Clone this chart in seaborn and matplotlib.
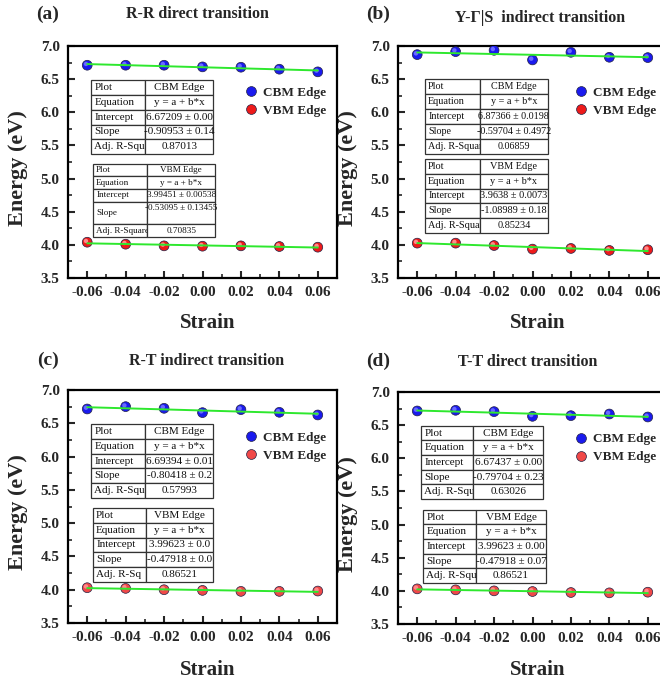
import numpy as np
import pandas as pd
import matplotlib
matplotlib.use("Agg")
import matplotlib.pyplot as plt
from matplotlib.table import Table
from matplotlib.ticker import MultipleLocator
from matplotlib.transforms import ScaledTranslation
import seaborn as sns

# ---------------- data ----------------
strain = [-0.06, -0.04, -0.02, 0.00, 0.02, 0.04, 0.06]

cbm_a = [6.71, 6.71, 6.71, 6.685, 6.68, 6.65, 6.61]
vbm_a = [4.04, 4.01, 3.985, 3.98, 3.985, 3.975, 3.965]
cbm_b = [6.87, 6.915, 6.935, 6.79, 6.905, 6.83, 6.825]
vbm_b = [4.026, 4.026, 3.99, 3.936, 3.946, 3.916, 3.926]
cbm_c = [6.715, 6.75, 6.725, 6.66, 6.705, 6.665, 6.625]
vbm_c = [4.03, 4.02, 4.0, 3.99, 3.975, 3.975, 3.98]
cbm_d = [6.714, 6.724, 6.704, 6.633, 6.643, 6.668, 6.623]
vbm_d = [4.03, 4.015, 4.0, 3.99, 3.975, 3.97, 3.98]

panel_labels = ["(a)", "(b)", "(c)", "(d)"]
titles = ["R-R direct transition", "Y-Γ|S  indirect transition",
          "R-T indirect transition", "T-T direct transition"]
series_names = ["CBM Edge", "VBM Edge"]
row_names_cbm = [["Plot", "Equation", "Intercept", "Slope", "Adj. R-Squ"],
                 ["Plot", "Equation", "Intercept", "Slope", "Adj. R-Square"],
                 ["Plot", "Equation", "Intercept", "Slope", "Adj. R-Squ"],
                 ["Plot", "Equation", "Intercept", "Slope", "Adj. R-Squ"]]
row_vals_cbm = [["CBM Edge", "y = a + b*x", "6.67209 ± 0.00", "-0.90953 ± 0.14", "0.87013"],
                ["CBM Edge", "y = a + b*x", "6.87366 ± 0.0198", "-0.59704 ± 0.4972", "0.06859"],
                ["CBM Edge", "y = a + b*x", "6.69394 ± 0.01", "-0.80418 ± 0.2", "0.57993"],
                ["CBM Edge", "y = a + b*x", "6.67437 ± 0.00", "-0.79704 ± 0.23", "0.63026"]]
row_names_vbm = [["Plot", "Equation", "Intercept", "Slope", "Adj. R-Square"],
                 ["Plot", "Equation", "Intercept", "Slope", "Adj. R-Squar"],
                 ["Plot", "Equation", "Intercept", "Slope", "Adj. R-Sq"],
                 ["Plot", "Equation", "Intercept", "Slope", "Adj. R-Squ"]]
row_vals_vbm = [["VBM Edge", "y = a + b*x", "3.99451 ± 0.00538", "-0.53095 ± 0.13455\n", "0.70835"],
                ["VBM Edge", "y = a + b*x", "3.9638 ± 0.0073", "-1.08989 ± 0.18", "0.85234"],
                ["VBM Edge", "y = a + b*x", "3.99623 ± 0.0", "-0.47918 ± 0.0", "0.86521"],
                ["VBM Edge", "y = a + b*x", "3.99623 ± 0.00", "-0.47918 ± 0.07", "0.86521"]]

cbm_all = [cbm_a, cbm_b, cbm_c, cbm_d]
vbm_all = [vbm_a, vbm_b, vbm_c, vbm_d]

# ---------------- style ----------------
sns.set_theme(style="ticks")
plt.rcParams["font.family"] = ["Liberation Serif", "DejaVu Serif"]
plt.rcParams["font.weight"] = "bold"
plt.rcParams["axes.labelweight"] = "bold"

W, H = 660, 685
fig = plt.figure(figsize=(W / 100, H / 100), dpi=100)

def px_axes(x0, top, w, h):
    return fig.add_axes([x0 / W, 1 - (top + h) / H, w / W, h / H])

# axes positions in pixels (left, top, width, height)
ax_pos = [(68, 46, 269, 232), (398, 46, 269, 232),
          (68, 390, 269, 233), (398, 392, 269, 232)]
# table boxes in axes fraction [x, y, w, h] and first-column fraction
cbm_boxes = [([0.086, 0.534, 0.454, 0.319], 0.443),
             ([0.100, 0.534, 0.457, 0.323], 0.447),
             ([0.086, 0.536, 0.454, 0.318], 0.443),
             ([0.086, 0.539, 0.454, 0.315], 0.426)]
vbm_boxes = [([0.093, 0.177, 0.454, 0.315], 0.443),
             ([0.100, 0.194, 0.457, 0.319], 0.447),
             ([0.093, 0.176, 0.446, 0.318], 0.44),
             ([0.093, 0.177, 0.457, 0.315], 0.431)]
vbm_heights = [[1, 1, 1, 1.8, 1], None, None, None]
tbl_fs_cbm = [8, 7.3, 8, 8]
tbl_fs_vbm = [6.6, 7.4, 8, 8]
legend_anchor = [(0.636, 0.76), (0.636, 0.76), (0.636, 0.757), (0.636, 0.758)]
title_pos = [((48, 14), (197, 14)), ((378, 14), (540, 18)),
             ((48, 360), (207, 361)), ((378, 361), (528, 362))]
xlabel_y = [323, 323, 670, 670]
ylabel_x = [18, 348, 18, 348]

green = "#2ee82e"
blue = "#1a1aee"
blue_hi = "#6a6aff"
red_ab = "#ee1a1a"
red_cd = "#f04848"
red_hi = "#ff8a8a"

def add_table(ax, names, vals, box, split, heights, fs):
    tb = Table(ax, bbox=box)
    hs = heights if heights is not None else [1] * len(names)
    for i, (k, v) in enumerate(zip(names, vals)):
        c0 = tb.add_cell(i, 0, split, hs[i], text=k, loc="left")
        c1 = tb.add_cell(i, 1, 1 - split, hs[i], text=v, loc="center")
        for c in (c0, c1):
            c.set_linewidth(0.9)
            c.set_edgecolor("#333333")
            c.set_facecolor("white")
            c.PAD = 0.06
            t = c.get_text()
            t.set_fontsize(fs)
            t.set_fontweight("normal")
            t.set_color("#111111")
    tb.auto_set_font_size(False)
    tb.set_zorder(5)
    ax.add_table(tb)

for i in range(4):
    ax = px_axes(*ax_pos[i])
    df = pd.DataFrame({"Strain": strain + strain,
                       "Energy": cbm_all[i] + vbm_all[i],
                       "Series": [series_names[0]] * 7 + [series_names[1]] * 7})
    red = red_ab if i < 2 else red_cd
    pal = {series_names[0]: blue, series_names[1]: red}
    for name in series_names:
        sub = df[df["Series"] == name]
        sns.regplot(data=sub, x="Strain", y="Energy", ax=ax, ci=None, scatter=False,
                    line_kws=dict(color=green, lw=1.4, zorder=4))
    sns.scatterplot(data=df, x="Strain", y="Energy", hue="Series", palette=pal,
                    ax=ax, s=50, edgecolor="#222244", linewidth=0.5, zorder=3,
                    legend=True)
    # sphere highlight
    hi_tr = ax.transData + ScaledTranslation(-0.9 / 72, 0.9 / 72, fig.dpi_scale_trans)
    sns.scatterplot(data=df, x="Strain", y="Energy", hue="Series",
                    palette={series_names[0]: blue_hi, series_names[1]: red_hi},
                    ax=ax, s=10, linewidth=0, zorder=3.5, legend=False,
                    transform=hi_tr)
    ax.set_xlim(-0.07, 0.07)
    ax.set_ylim(3.5, 7.0)
    ax.set_xticks(strain)
    ax.set_xticklabels([f"{v:.2f}" for v in strain])
    ax.xaxis.set_minor_locator(MultipleLocator(0.01))
    ax.yaxis.set_major_locator(MultipleLocator(0.5))
    ax.yaxis.set_minor_locator(MultipleLocator(0.25))
    ax.tick_params(which="major", direction="in", length=5, width=1.5,
                   labelsize=11, pad=6, top=False, right=False)
    ax.tick_params(which="minor", direction="in", length=3, width=1.2,
                   top=False, right=False)
    for lab in ax.get_xticklabels() + ax.get_yticklabels():
        lab.set_fontweight("bold")
    for sp in ax.spines.values():
        sp.set_linewidth(1.6)
        sp.set_color("black")
        sp.set_visible(True)
    ax.set_xlabel("")
    ax.set_ylabel("")
    fig.text(ylabel_x[i] / W, 1 - (ax_pos[i][1] + 122) / H, "Energy (eV)",
             rotation=90, ha="center", va="center", fontsize=16, fontweight="bold")
    fig.text((ax_pos[i][0] + 140) / W, 1 - xlabel_y[i] / H, "Strain",
             ha="center", va="center", fontsize=15, fontweight="bold")
    (lx, ly), (tx, ty) = title_pos[i]
    fig.text(lx / W, 1 - ly / H, panel_labels[i], ha="center", va="center",
             fontsize=14, fontweight="bold")
    fig.text(tx / W, 1 - ty / H, titles[i], ha="center", va="center",
             fontsize=11.5, fontweight="bold")
    leg = ax.legend(loc="center left", bbox_to_anchor=legend_anchor[i], frameon=False,
                    title=None, handletextpad=0.4, handlelength=1.0, borderaxespad=0,
                    labelspacing=0.45,
                    prop={"weight": "bold", "size": 9.5, "family": "Liberation Serif"},
                    markerscale=1.0)
    add_table(ax, row_names_cbm[i], row_vals_cbm[i], *cbm_boxes[i], None, tbl_fs_cbm[i])
    add_table(ax, row_names_vbm[i], row_vals_vbm[i], *vbm_boxes[i], vbm_heights[i], tbl_fs_vbm[i])

fig.savefig("out.png", dpi=100)
